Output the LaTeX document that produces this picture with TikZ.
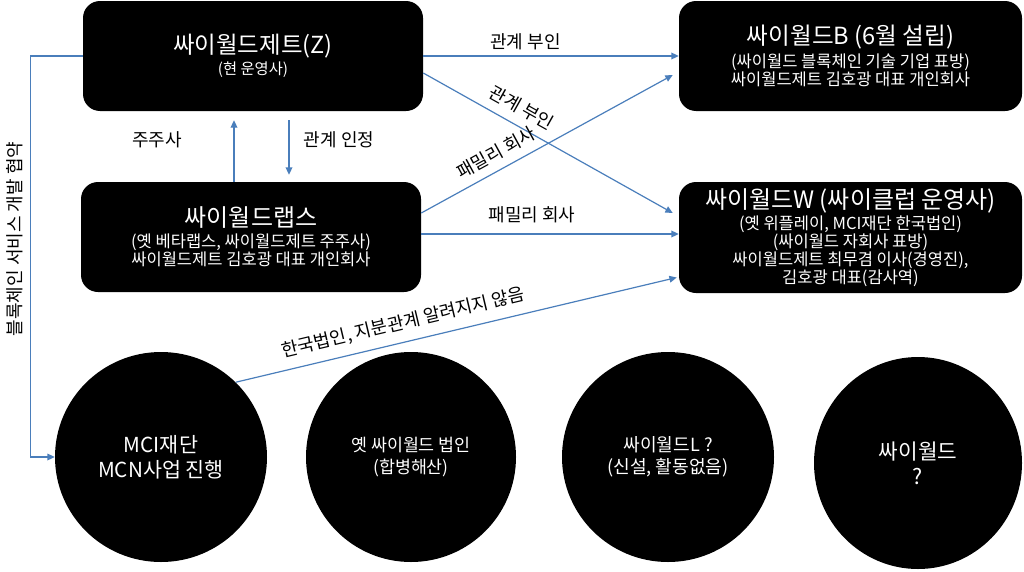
\documentclass[tikz,border=0pt]{standalone}
\usepackage{fontspec}
\setmainfont{Noto Sans CJK KR}
\usetikzlibrary{arrows.meta,calc,shapes.geometric}
\definecolor{lineblue}{RGB}{74,126,187}
\newcommand{\ttl}{\fontsize{18pt}{19pt}\selectfont}
\tikzset{
  box/.style={draw=none,fill=black,text=white,rounded corners=12.75pt,align=center,
    inner sep=0pt,font=\fontsize{12.4pt}{13.6pt}\selectfont},
  oval/.style={ellipse,draw=none,fill=black,text=white,align=center,inner sep=0pt,
    font=\fontsize{13pt}{16.5pt}\selectfont},
  arr/.style={draw=lineblue,line width=0.9pt,-{Triangle[length=5.5pt,width=5pt]}},
  lbl/.style={text=black,font=\fontsize{13.5pt}{15pt}\selectfont,inner sep=1pt}
}
\begin{document}
\begin{tikzpicture}[x=0.75pt,y=-0.75pt]
\useasboundingbox (0,0) rectangle (1024,571);
% boxes
\node[box,minimum width=255pt,minimum height=82.5pt] (Z) at (253,56)
  {{\fontsize{17.6pt}{19pt}\selectfont 싸이월드제트(Z)}\\[2pt]
   {\fontsize{11.5pt}{13.5pt}\selectfont (현 운영사)}};
\node[box,minimum width=255pt,minimum height=82.5pt] (L) at (251,237)
  {{\ttl 싸이월드랩스}\\[2pt]
   (옛 베타랩스, 싸이월드제트 주주사)\\
   싸이월드제트 김호광 대표 개인회사};
\node[box,minimum width=257.25pt,minimum height=82.5pt] (B) at (850.5,56)
  {{\fontsize{17.7pt}{19pt}\selectfont 싸이월드B (6월 설립)}\\[2pt]
   (싸이월드 블록체인 기술 기업 표방)\\
   싸이월드제트 김호광 대표 개인회사};
\node[box,minimum width=257.25pt,minimum height=83.25pt] (W) at (850.5,237.5)
  {{\ttl 싸이월드W (싸이클럽 운영사)}\\[1pt]
   (옛 위플레이, MCI재단 한국법인)\\
   (싸이월드 자회사 표방)\\
   싸이월드제트 최무겸 이사(경영진),\\
   김호광 대표(감사역)};
% ovals
\node[oval,minimum width=159pt,minimum height=157.5pt,font=\fontsize{15.5pt}{19pt}\selectfont] (M) at (161,457)
  {MCI재단\\MCN사업 진행};
\node[oval,minimum width=157.5pt,minimum height=157.5pt] (O) at (411,457)
  {옛 싸이월드 법인\\(합병해산)};
\node[oval,minimum width=159pt,minimum height=157.5pt,font=\fontsize{13.6pt}{16.5pt}\selectfont] (Lq) at (668,457)
  {싸이월드L ?\\(신설, 활동없음)};
\node[oval,minimum width=156pt,minimum height=159pt,font=\fontsize{16pt}{19pt}\selectfont] (Q) at (918,463)
  {싸이월드\\?};
% connectors
\draw[arr] (Z.east) -- node[lbl,pos=0.4,above=3pt] (l1) {관계 부인} (B.west);
\draw[arr] ($(Z.east)+(0,17)$) -- node[lbl,pos=0.36,sloped,above=6pt] (l2) {관계 부인} ($(W.west)+(-6,-24.5)$);
\draw[arr] ($(L.east)+(0,-24)$) -- node[lbl,pos=0.33,sloped,above=5pt] (l3) {패밀리 회사} ($(B.west)+(-6,19)$);
\draw[arr] ($(L.east)+(0,-3)$) -- node[lbl,pos=0.43,above=7pt] (l4) {패밀리 회사} ($(W.west)+(0,-3.5)$);
\draw[arr] ($(L.north)+(-17,0)$) -- ($(Z.south)+(-19,9)$);
\draw[arr] ($(Z.south)+(36,9)$) -- ($(L.north)+(38,-7)$);
\node[lbl] (l5) at (157,140) {주주사};
\node[lbl] (l6) at (339,140) {관계 인정};
\draw[arr] (Z.west) -- ++(-52,0) coordinate (lc) |- (M.west);
\node[lbl,rotate=90] (l7) at (15,239) {블록체인 서비스 개발 협약};
\draw[arr] (M.45) -- node[lbl,pos=0.39,sloped,above=6pt] (l8) {한국법인, 지분관계 알려지지 않음} ($(W.west)+(-2,40)$);
\end{tikzpicture}
\end{document}
